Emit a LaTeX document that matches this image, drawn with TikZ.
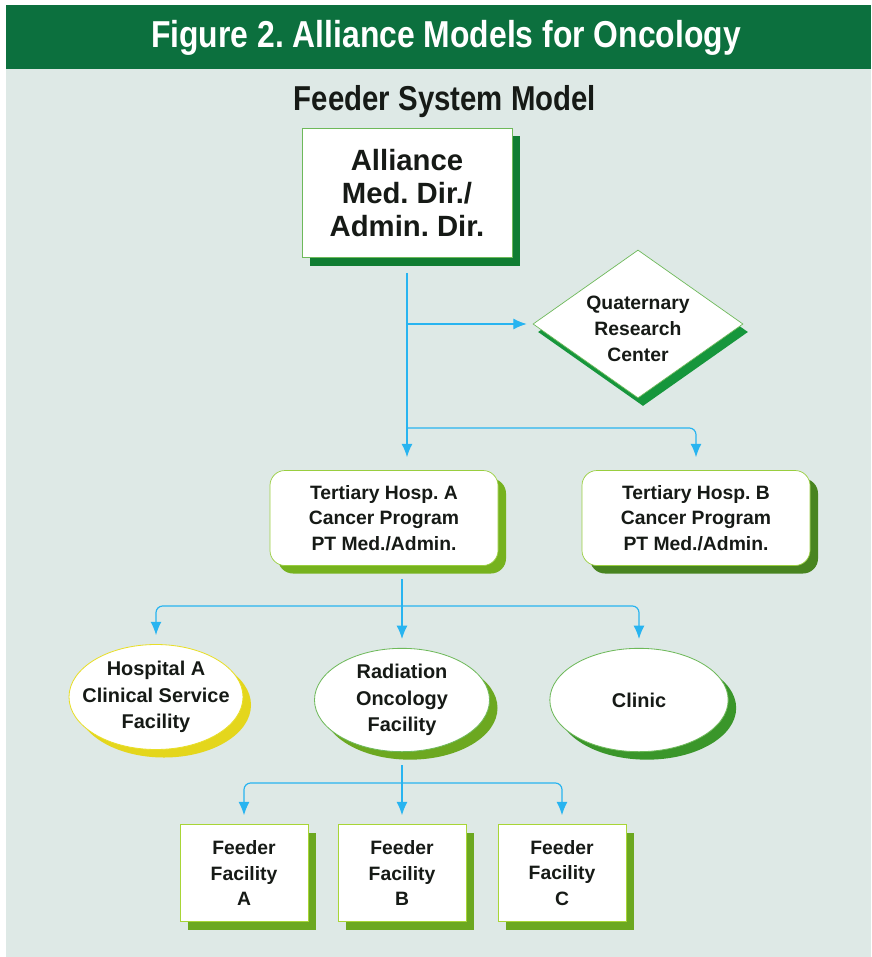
\documentclass[tikz,border=0pt]{standalone}
\usepackage{fontspec}
\setmainfont{Liberation Sans}
\newfontfamily\narrowfont{Liberation Sans}[FakeStretch=0.85]
\usepackage{xcolor}
\usepackage{tikz}
\usetikzlibrary{arrows.meta, positioning, shapes.geometric, shadows}
\frenchspacing

\definecolor{bandgreen}{RGB}{12,112,62}
\definecolor{paper}{RGB}{222,233,230}
\definecolor{linkblue}{RGB}{40,180,240}
\definecolor{inkblack}{RGB}{22,26,22}
\definecolor{edgegreen}{RGB}{110,185,90}
\definecolor{edgeyellow}{RGB}{232,222,40}
\definecolor{darkshade}{RGB}{16,125,50}
\definecolor{diashade}{RGB}{22,150,60}
\definecolor{limeshade}{RGB}{118,178,30}
\definecolor{oliveshade}{RGB}{72,132,32}
\definecolor{yellowshade}{RGB}{228,214,28}
\definecolor{grassshade}{RGB}{108,168,32}
\definecolor{clinicshade}{RGB}{58,150,42}

\begin{document}
\begin{tikzpicture}[
    x=0.03cm, y=-0.03cm,
    txt/.style={align=center, text=inkblack, font=\bfseries\fontsize{16.5}{22}\selectfont},
    shadowed/.style={drop shadow={shadow xshift=0.24cm, shadow yshift=-0.24cm, opacity=1, fill=#1}},
    headbox/.style={txt, rectangle, draw=edgegreen, fill=white, line width=0.6pt, minimum width=6.3cm, minimum height=3.87cm, font=\bfseries\fontsize{25}{28}\selectfont, shadowed=darkshade},
    center/.style={txt, diamond, aspect=1.42, draw=edgegreen, fill=white, line width=0.6pt, minimum width=6.3cm, minimum height=4.44cm, inner sep=0pt, drop shadow={shadow xshift=0.15cm, shadow yshift=-0.24cm, opacity=1, fill=diashade}},
    program/.style={txt, rectangle, rounded corners=0.45cm, draw=edgegreen!70!yellow, fill=white, line width=0.6pt, minimum width=6.84cm, minimum height=2.85cm, shadowed=#1},
    facility/.style={txt, ellipse, draw=#1, fill=white, line width=0.7pt, minimum width=5.25cm, minimum height=3.1cm, inner sep=0pt, font=\bfseries\fontsize{17}{22.5}\selectfont},
    feeder/.style={txt, rectangle, draw=edgegreen!60!yellow, fill=white, line width=0.5pt, minimum width=3.84cm, minimum height=2.91cm, font=\bfseries\fontsize{16.5}{22}\selectfont, shadowed=grassshade},
    arrow/.style={-{Latex[length=4mm, width=3.3mm]}, draw=linkblue, line width=1pt}
]

\useasboundingbox[fill=white] (0,0) rectangle (871,957);
\fill[paper] (6,69) rectangle (871,957);
\fill[bandgreen] (6,5) rectangle (871,69);

\node[text=white, font=\narrowfont\bfseries\fontsize{32}{34}\selectfont] (title) at (446,38) {Figure 2. Alliance Models for Oncology};
\node[text=inkblack, font=\narrowfont\bfseries\fontsize{29.5}{31}\selectfont] (sub) at (445,102) {Feeder System Model};

\node[headbox] (ally) at (407,193) {Alliance\\Med. Dir./\\Admin. Dir.};
\node[center] (quat) at (638,324) {\rule{0pt}{20pt}Quaternary\\Research\\Center};

\node[program=limeshade] (terA) at (384,518) {Tertiary Hosp. A\\Cancer Program\\PT Med./Admin.};
\node[program=oliveshade] (terB) at (696,518) {Tertiary Hosp. B\\Cancer Program\\PT Med./Admin.};

\node[facility=edgeyellow, minimum width=5.22cm, minimum height=3.15cm, inner xsep=-0.4cm, shadowed=yellowshade] (hosp) at (156,697) {Hospital A\\Clinical Service\\Facility};
\node[facility=edgegreen, shadowed=grassshade] (rad) at (402,700) {Radiation\\Oncology\\Facility};
\node[facility=edgegreen, minimum width=5.35cm, shadowed=clinicshade] (clinic) at (639,700) {Clinic};

\node[feeder] (feedA) at (244,873) {Feeder\\Facility\\A};
\node[feeder] (feedB) at (402,873) {Feeder\\Facility\\B};
\node[feeder] (feedC) at (562,873) {Feeder\\Facility\\C};

\coordinate (fork1) at (407,428);
\coordinate (fork2) at (402,606);
\coordinate (fork3) at (402,783);

\draw[arrow, shorten <=0.45cm, shorten >=0.39cm] (ally.south) -- (ally.south |- terA.north);
\draw[arrow, shorten >=0.18cm] (ally.south |- quat.west) -- (quat.west);
\draw[arrow, rounded corners=0.2cm, shorten >=0.39cm] (fork1) -| (terB.north);

\draw[arrow, shorten <=0.39cm, shorten >=0.27cm] (rad.north |- terA.south) -- (rad.north);
\draw[arrow, rounded corners=0.2cm, shorten >=0.27cm] (fork2) -| (hosp.north);
\draw[arrow, rounded corners=0.2cm, shorten >=0.27cm] (fork2) -| (clinic.north);

\draw[arrow, shorten <=0.39cm, shorten >=0.27cm] (rad.south) -- (feedB.north);
\draw[arrow, rounded corners=0.2cm, shorten >=0.27cm] (fork3) -| (feedA.north);
\draw[arrow, rounded corners=0.2cm, shorten >=0.27cm] (fork3) -| (feedC.north);

\end{tikzpicture}
\end{document}
